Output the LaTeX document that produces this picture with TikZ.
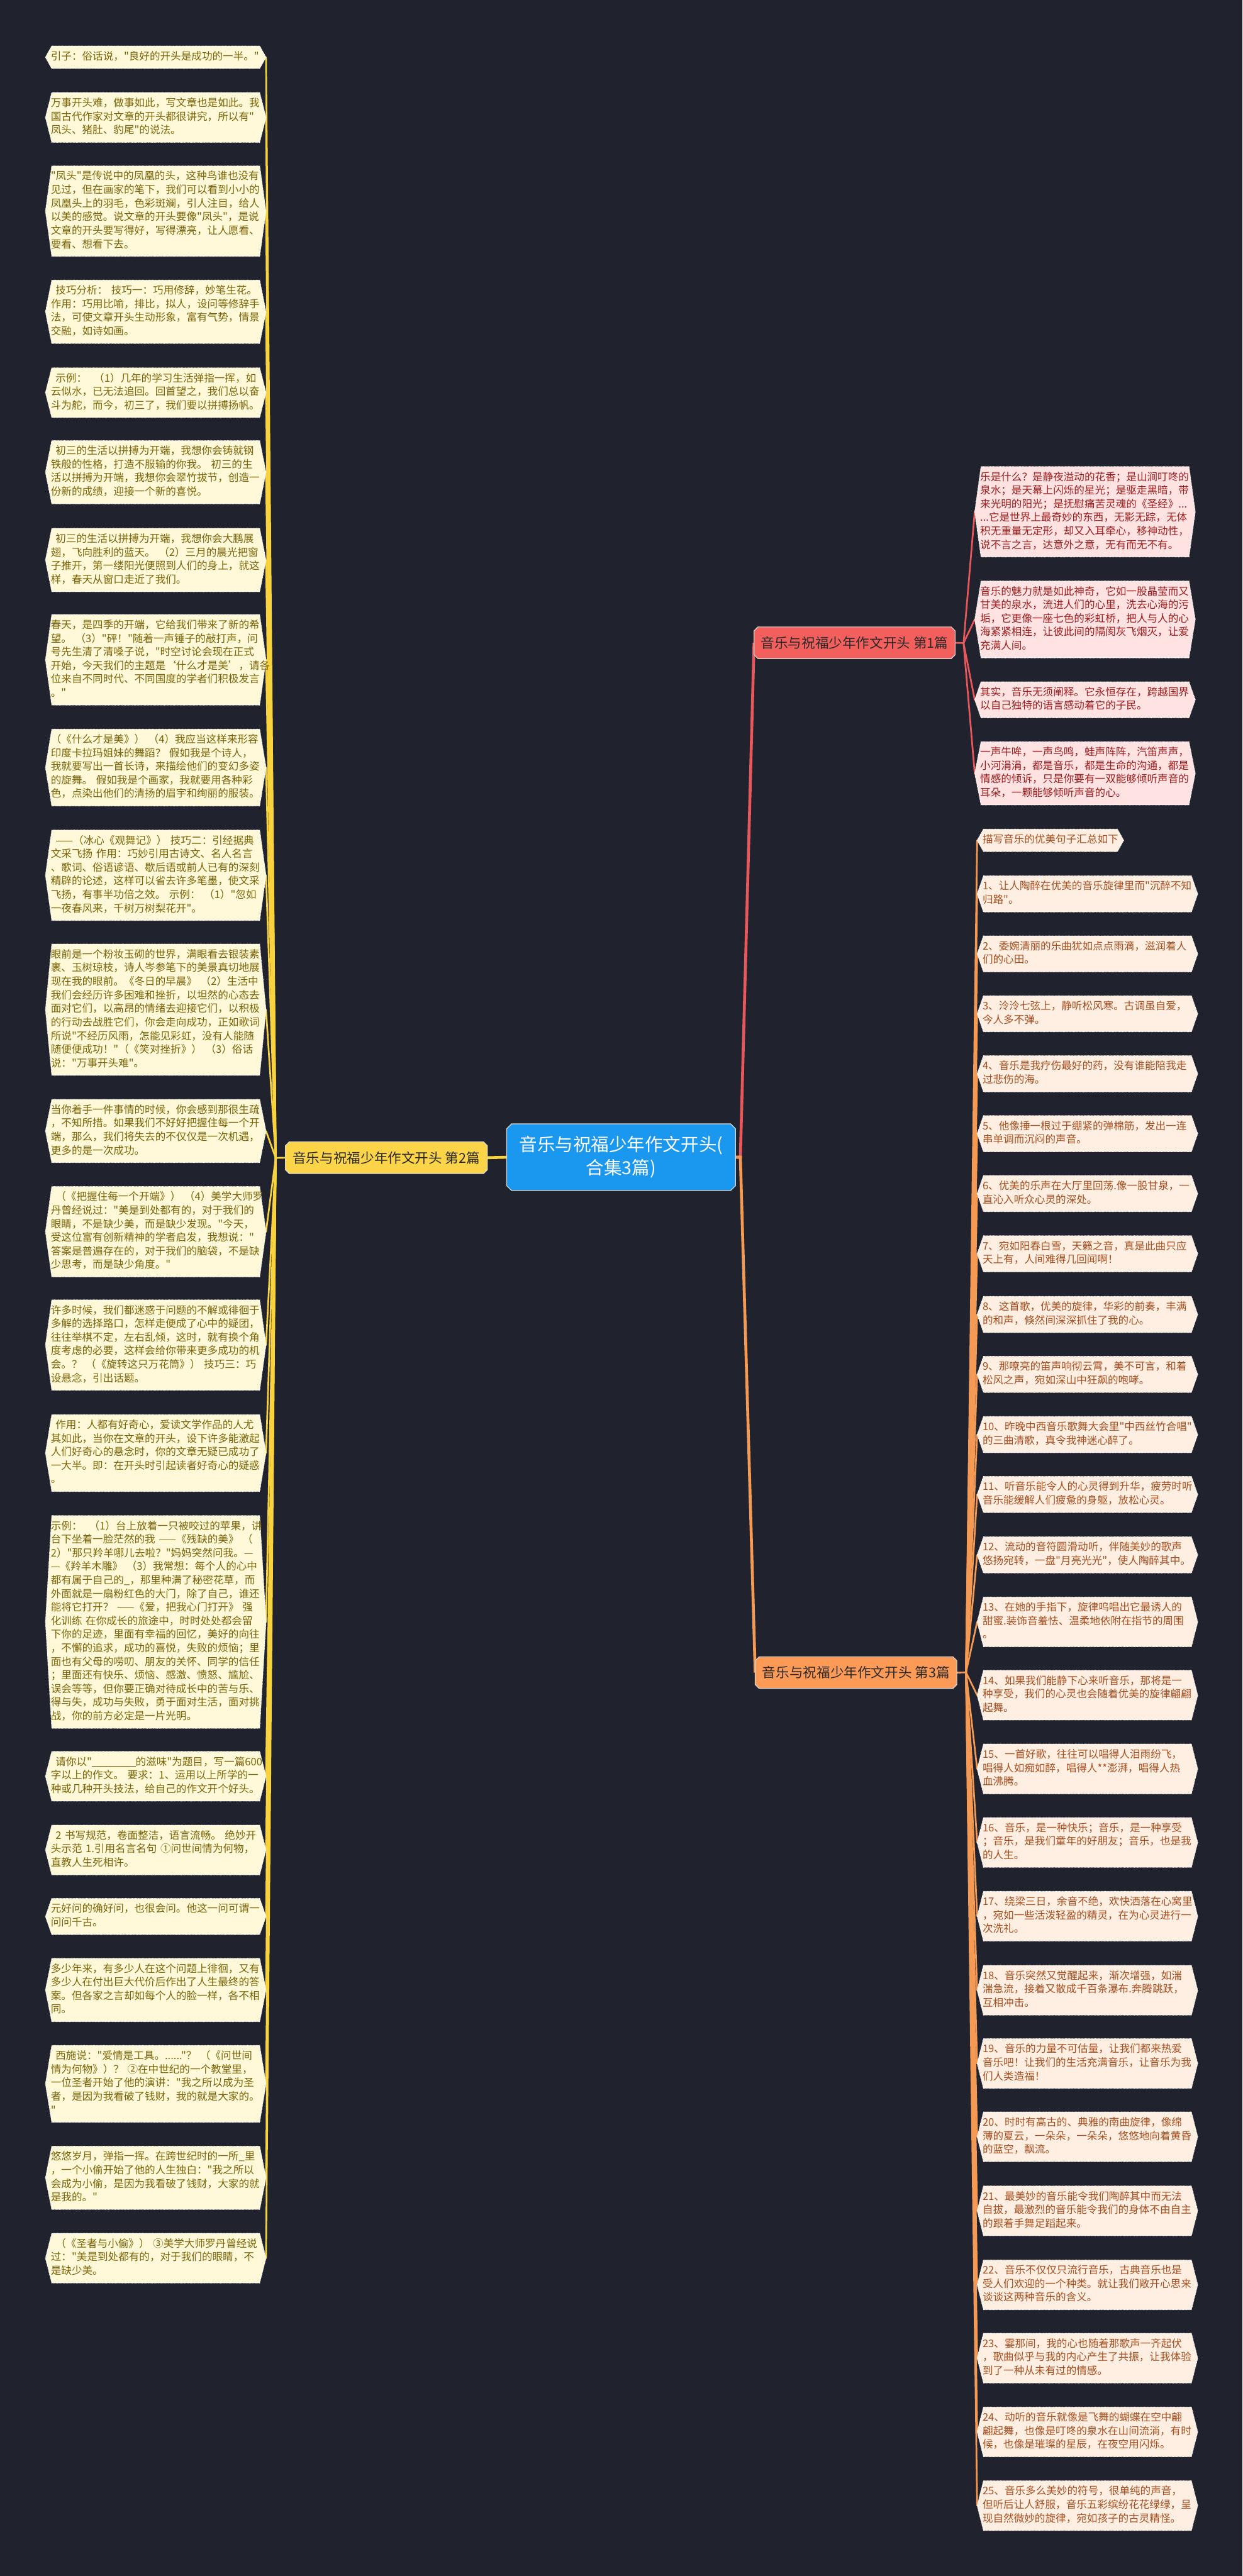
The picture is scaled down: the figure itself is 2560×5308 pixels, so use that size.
\documentclass[tikz,border=0pt]{standalone}
\usepackage{fontspec}
\setmainfont{Noto Sans CJK SC}[Ligatures=TeXOff]
\usetikzlibrary{backgrounds}
\definecolor{bgc}{HTML}{20232E}
\definecolor{yfill}{HTML}{FFF9DA}
\definecolor{ytext}{HTML}{7A6406}
\definecolor{yline}{HTML}{F8D33E}
\definecolor{bYfill}{HTML}{FCD448}
\definecolor{rfill}{HTML}{FFE3E3}
\definecolor{rtext}{HTML}{9C1C1C}
\definecolor{rline}{HTML}{E8585A}
\definecolor{bRfill}{HTML}{F25F5C}
\definecolor{ofill}{HTML}{FFEEE2}
\definecolor{otext}{HTML}{A54E1E}
\definecolor{oline}{HTML}{F59A55}
\definecolor{bOfill}{HTML}{FD9A55}
\definecolor{cfill}{HTML}{1A98EF}
\definecolor{btext}{HTML}{2A2A2A}
\newcommand\lsp{\hspace*{0.45em}}
\newcommand\blankline{\rule[-2pt]{4.2em}{1.2pt}}
\begin{document}
\begin{tikzpicture}[x=1pt,y=-1pt,
  leafbase/.style={rectangle, inner xsep=11pt, inner ysep=9pt, align=left,
    font=\fontsize{21.5pt}{28pt}\selectfont,
    execute at begin node=\strut, execute at end node=\strut},
  leafL/.style={leafbase, text width=432pt, text=ytext, anchor=east},
  leafR/.style={leafbase, text width=432pt, text=rtext, anchor=west},
  leafO/.style={leafbase, text width=432pt, text=otext, anchor=west},
  branchnode/.style={rectangle, minimum height=65pt, inner xsep=14pt,
    font=\fontsize{28pt}{34pt}\selectfont, text=btext},
  rootnode/.style={rectangle, text=white, align=center,
    font=\fontsize{37pt}{48pt}\selectfont, minimum width=471pt, minimum height=137pt},
  link/.style={line width=3.5pt, line cap=round},
  mainlink/.style={line width=6pt},
  hexstyle/.style={fill=#1, draw=white, densely dotted, line width=1.3pt},
  octstyle/.style={fill=#1, draw=white!85!black, line width=1.5pt}
]
\path[use as bounding box] (0,0) rectangle (2560,5308);

% ---------- root and branches ----------
\node[rootnode] (C) at (1279.5,2384.5) {音乐与祝福少年作文开头(\\合集3篇)};
\node[branchnode, minimum width=409pt] (B1) at (1760.5,1324.5) {音乐与祝福少年作文开头 第1篇};
\node[branchnode, minimum width=416pt] (B2) at (796,2385.5) {音乐与祝福少年作文开头 第2篇};
\node[branchnode, minimum width=415pt] (B3) at (1763.5,3446.5) {音乐与祝福少年作文开头 第3篇};

\coordinate (cL) at (568,2386);
\coordinate (cR) at (1985,1325);
\coordinate (cO) at (1990,3446);

% ---------- left leaves (branch 2) ----------
\node[leafL] (L1) at (548,118) {引子：俗话说，"良好的开头是成功的一半。"};
\node[leafL] (L2) at (548,242) {万事开头难，做事如此，写文章也是如此。我\\国古代作家对文章的开头都很讲究，所以有"\\凤头、猪肚、豹尾"的说法。};
\node[leafL] (L3) at (548,435) {"凤头"是传说中的凤凰的头，这种鸟谁也没有\\见过，但在画家的笔下，我们可以看到小小的\\凤凰头上的羽毛，色彩斑斓，引人注目，给人\\以美的感觉。说文章的开头要像"凤头"，是说\\文章的开头要写得好，写得漂亮，让人愿看、\\要看、想看下去。};
\node[leafL] (L4) at (548,642.5) {\lsp 技巧分析：~技巧一：巧用修辞，妙笔生花。\\作用：巧用比喻，排比，拟人，设问等修辞手\\法，可使文章开头生动形象，富有气势，情景\\交融，如诗如画。};
\node[leafL] (L5) at (548,809) {\lsp 示例：~~（1）几年的学习生活弹指一挥，如\\云似水，已无法追回。回首望之，我们总以奋\\斗为舵，而今，初三了，我们要以拼搏扬帆。};
\node[leafL] (L6) at (548,973) {\lsp 初三的生活以拼搏为开端，我想你会铸就钢\\铁般的性格，打造不服输的你我。~初三的生\\活以拼搏为开端，我想你会翠竹拔节，创造一\\份新的成绩，迎接一个新的喜悦。};
\node[leafL] (L7) at (548,1154) {\lsp 初三的生活以拼搏为开端，我想你会大鹏展\\翅，飞向胜利的蓝天。~（2）三月的晨光把窗\\子推开，第一缕阳光便照到人们的身上，就这\\样，春天从窗口走近了我们。};
\node[leafL] (L8) at (548,1359.5) {春天，是四季的开端，它给我们带来了新的希\\望。~（3）"砰！"随着一声锤子的敲打声，问\\号先生清了清嗓子说，"时空讨论会现在正式\\开始，今天我们的主题是‘什么才是美’，请各\\位来自不同时代、不同国度的学者们积极发言\\。"};
\node[leafL] (L9) at (548,1581.5) {（《什么才是美》）~（4）我应当这样来形容\\印度卡拉玛姐妹的舞蹈？~假如我是个诗人，\\我就要写出一首长诗，来描绘他们的变幻多姿\\的旋舞。~假如我是个画家，我就要用各种彩\\色，点染出他们的清扬的眉宇和绚丽的服装。};
\node[leafL] (L10) at (548,1803.5) {\lsp ——（冰心《观舞记》）~技巧二：引经据典\\文采飞扬~作用：巧妙引用古诗文、名人名言\\、歌词、俗语谚语、歇后语或前人已有的深刻\\精辟的论述，这样可以省去许多笔墨，使文采\\飞扬，有事半功倍之效。~示例：~（1）"忽如\\一夜春风来，千树万树梨花开"。};
\node[leafL] (L11) at (548,2080.5) {眼前是一个粉妆玉砌的世界，满眼看去银装素\\裹、玉树琼枝，诗人岑参笔下的美景真切地展\\现在我的眼前。《冬日的早晨》~（2）生活中\\我们会经历许多困难和挫折，以坦然的心态去\\面对它们，以高昂的情绪去迎接它们，以积极\\的行动去战胜它们，你会走向成功，正如歌词\\所说"不经历风雨，怎能见彩虹，没有人能随\\随便便成功！"（《笑对挫折》）~（3）俗话\\说："万事开头难"。};
\node[leafL] (L12) at (548,2330.5) {当你着手一件事情的时候，你会感到那很生疏\\，不知所措。如果我们不好好把握住每一个开\\端，那么，我们将失去的不仅仅是一次机遇，\\更多的是一次成功。};
\node[leafL] (L13) at (548,2538) {\lsp （《把握住每一个开端》）~（4）美学大师罗\\丹曾经说过："美是到处都有的，对于我们的\\眼睛，不是缺少美，而是缺少发现。"今天，\\受这位富有创新精神的学者启发，我想说："\\答案是普遍存在的，对于我们的脑袋，不是缺\\少思考，而是缺少角度。"};
\node[leafL] (L14) at (548,2771.5) {许多时候，我们都迷惑于问题的不解或徘徊于\\多解的选择路口，怎样走便成了心中的疑团，\\往往举棋不定，左右乱倾，这时，就有换个角\\度考虑的必要，这样会给你带来更多成功的机\\会。？~（《旋转这只万花筒》）~技巧三：巧\\设悬念，引出话题。};
\node[leafL] (L15) at (548,2994) {\lsp 作用：人都有好奇心，爱读文学作品的人尤\\其如此，当你在文章的开头，设下许多能激起\\人们好奇心的悬念时，你的文章无疑已成功了\\一大半。即：在开头时引起读者好奇心的疑惑\\。};
\node[leafL] (L16) at (548,3342) {示例：~~（1）台上放着一只被咬过的苹果，讲\\台下坐着一脸茫然的我~——《残缺的美》~（\\2）"那只羚羊哪儿去啦？"妈妈突然问我。—\\—《羚羊木雕》~（3）我常想：每个人的心中\\都有属于自己的\_，那里种满了秘密花草，而\\外面就是一扇粉红色的大门，除了自己，谁还\\能将它打开？~——《爱，把我心门打开》~强\\化训练~在你成长的旅途中，时时处处都会留\\下你的足迹，里面有幸福的回忆，美好的向往\\，不懈的追求，成功的喜悦，失败的烦恼；里\\面也有父母的唠叨、朋友的关怀、同学的信任\\；里面还有快乐、烦恼、感激、愤怒、尴尬、\\误会等等，但你要正确对待成长中的苦与乐、\\得与失，成功与失败，勇于面对生活，面对挑\\战，你的前方必定是一片光明。};
\node[leafL] (L17) at (548,3660) {\lsp 请你以"\blankline 的滋味"为题目，写一篇600\\字以上的作文。~要求：1、运用以上所学的一\\种或几种开头技法，给自己的作文开个好头。};
\node[leafL] (L18) at (548,3812) {\lsp 2~书写规范，卷面整洁，语言流畅。~绝妙开\\头示范~1.引用名言名句~①问世间情为何物，\\直教人生死相许。};
\node[leafL] (L19) at (548,3949) {元好问的确好问，也很会问。他这一问可谓一\\问问千古。};
\node[leafL] (L20) at (548,4100.5) {多少年来，有多少人在这个问题上徘徊，又有\\多少人在付出巨大代价后作出了人生最终的答\\案。但各家之言却如每个人的脸一样，各不相\\同。};
\node[leafL] (L21) at (548,4294) {\lsp 西施说："爱情是工具。......"？~（《问世间\\情为何物》）？~②在中世纪的一个教堂里，\\一位圣者开始了他的演讲："我之所以成为圣\\者，是因为我看破了钱财，我的就是大家的。\\"};
\node[leafL] (L22) at (548,4487.5) {悠悠岁月，弹指一挥。在跨世纪时的一所\_里\\，一个小偷开始了他的人生独白："我之所以\\会成为小偷，是因为我看破了钱财，大家的就\\是我的。"};
\node[leafL] (L23) at (548,4653) {\lsp （《圣者与小偷》）~③美学大师罗丹曾经说\\过："美是到处都有的，对于我们的眼睛，不\\是缺少美。};

% ---------- right leaves (branch 1) ----------
\node[leafR] (R1) at (2008,1054.5) {乐是什么？是静夜溢动的花香；是山涧叮咚的\\泉水；是天幕上闪烁的星光；是驱走黑暗，带\\来光明的阳光；是抚慰痛苦灵魂的《圣经》...\\...它是世界上最奇妙的东西，无影无踪，无体\\积无重量无定形，却又入耳牵心，移神动性，\\说不言之言，达意外之意，无有而无不有。};
\node[leafR] (R2) at (2008,1276.5) {音乐的魅力就是如此神奇，它如一股晶莹而又\\甘美的泉水，流进人们的心里，洗去心海的污\\垢，它更像一座七色的彩虹桥，把人与人的心\\海紧紧相连，让彼此间的隔阂灰飞烟灭，让爱\\充满人间。};
\node[leafR] (R3) at (2008,1442) {其实，音乐无须阐释。它永恒存在，跨越国界\\以自己独特的语言感动着它的子民。};
\node[leafR] (R4) at (2008,1593.5) {一声牛哞，一声鸟鸣，蛙声阵阵，汽笛声声，\\小河涓涓，都是音乐，都是生命的沟通，都是\\情感的倾诉，只是你要有一双能够倾听声音的\\耳朵，一颗能够倾听声音的心。};

% ---------- right leaves (branch 3) ----------
\node[leafbase, text=otext, anchor=west] (O0) at (2013,1731.5) {描写音乐的优美句子汇总如下};
\node[leafO] (O1) at (2013,1842) {1、让人陶醉在优美的音乐旋律里而"沉醉不知\\归路"。};
\node[leafO] (O2) at (2013,1965.5) {2、委婉清丽的乐曲犹如点点雨滴，滋润着人\\们的心田。};
\node[leafO] (O3) at (2013,2089) {3、泠泠七弦上，静听松风寒。古调虽自爱，\\今人多不弹。};
\node[leafO] (O4) at (2013,2212.5) {4、音乐是我疗伤最好的药，没有谁能陪我走\\过悲伤的海。};
\node[leafO] (O5) at (2013,2336) {5、他像捶一根过于绷紧的弹棉筋，发出一连\\串单调而沉闷的声音。};
\node[leafO] (O6) at (2013,2459.5) {6、优美的乐声在大厅里回荡.像一股甘泉，一\\直沁入听众心灵的深处。};
\node[leafO] (O7) at (2013,2583.5) {7、宛如阳春白雪，天籁之音，真是此曲只应\\天上有，人间难得几回闻啊！};
\node[leafO] (O8) at (2013,2708.5) {8、这首歌，优美的旋律，华彩的前奏，丰满\\的和声，倏然间深深抓住了我的心。};
\node[leafO] (O9) at (2013,2832) {9、那嘹亮的笛声响彻云霄，美不可言，和着\\松风之声，宛如深山中狂飙的咆哮。};
\node[leafO] (O10) at (2013,2956) {10、昨晚中西音乐歌舞大会里"中西丝竹合唱"\\的三曲清歌，真令我神迷心醉了。};
\node[leafO] (O11) at (2013,3079.5) {11、听音乐能令人的心灵得到升华，疲劳时听\\音乐能缓解人们疲惫的身躯，放松心灵。};
\node[leafO] (O12) at (2013,3204) {12、流动的音符圆滑动听，伴随美妙的歌声\\悠扬宛转，一盘"月亮光光"，使人陶醉其中。};
\node[leafO] (O13) at (2013,3342) {13、在她的手指下，旋律呜唱出它最诱人的\\甜蜜.装饰音羞怯、温柔地依附在指节的周围\\。};
\node[leafO] (O14) at (2013,3493) {14、如果我们能静下心来听音乐，那将是一\\种享受，我们的心灵也会随着优美的旋律翩翩\\起舞。};
\node[leafO] (O15) at (2013,3645) {15、一首好歌，往往可以唱得人泪雨纷飞，\\唱得人如痴如醉，唱得人**澎湃，唱得人热\\血沸腾。};
\node[leafO] (O16) at (2013,3796.5) {16、音乐，是一种快乐；音乐，是一种享受\\；音乐，是我们童年的好朋友；音乐，也是我\\的人生。};
\node[leafO] (O17) at (2013,3948.5) {17、绕梁三日，余音不绝，欢快洒落在心窝里\\，宛如一些活泼轻盈的精灵，在为心灵进行一\\次洗礼。};
\node[leafO] (O18) at (2013,4101) {18、音乐突然又觉醒起来，渐次增强，如湍\\湍急流，接着又散成千百条瀑布.奔腾跳跃，\\互相冲击。};
\node[leafO] (O19) at (2013,4252) {19、音乐的力量不可估量，让我们都来热爱\\音乐吧！让我们的生活充满音乐，让音乐为我\\们人类造福！};
\node[leafO] (O20) at (2013,4403) {20、时时有高古的、典雅的南曲旋律，像绵\\薄的夏云，一朵朵，一朵朵，悠悠地向着黄昏\\的蓝空，飘流。};
\node[leafO] (O21) at (2013,4555.5) {21、最美妙的音乐能令我们陶醉其中而无法\\自拔，最激烈的音乐能令我们的身体不由自主\\的跟着手舞足蹈起来。};
\node[leafO] (O22) at (2013,4708) {22、音乐不仅仅只流行音乐，古典音乐也是\\受人们欢迎的一个种类。就让我们敞开心思来\\谈谈这两种音乐的含义。};
\node[leafO] (O23) at (2013,4859) {23、霎那间，我的心也随着那歌声一齐起伏\\，歌曲似乎与我的内心产生了共振，让我体验\\到了一种从未有过的情感。};
\node[leafO] (O24) at (2013,5011) {24、动听的音乐就像是飞舞的蝴蝶在空中翩\\翩起舞，也像是叮咚的泉水在山间流淌，有时\\候，也像是璀璨的星辰，在夜空用闪烁。};
\node[leafO] (O25) at (2013,5163) {25、音乐多么美妙的符号，很单纯的声音，\\但听后让人舒服，音乐五彩缤纷花花绿绿，呈\\现自然微妙的旋律，宛如孩子的古灵精怪。};

% ---------- background layer: canvas, connectors, shapes ----------
\begin{scope}[on background layer]
\fill[bgc] (0,0) rectangle (2560,5308);
% main connectors
\draw[mainlink, yline] (C.west) -- (B2.east);
\draw[mainlink, rline] (C.east) -- ++(10,0) -- (B1.west);
\draw[mainlink, oline] (C.east) -- ++(10,0) -- (B3.west);
% branch stubs
\draw[link, yline] (B2.west) -- (cL);
\draw[link, rline] (B1.east) -- (cR);
\draw[link, oline] (B3.east) -- (cO);
\foreach \i in {1,...,23} {\draw[link, yline] (cL) -- (L\i.east);}
\foreach \i in {1,...,4} {\draw[link, rline] (cR) -- (R\i.west);}
\foreach \i in {0,...,25} {\draw[link, oline] (cO) -- (O\i.west);}
% leaf hexagons
\foreach \n/\c in {L1/yfill,L2/yfill,L3/yfill,L4/yfill,L5/yfill,L6/yfill,L7/yfill,L8/yfill,L9/yfill,L10/yfill,L11/yfill,L12/yfill,L13/yfill,L14/yfill,L15/yfill,L16/yfill,L17/yfill,L18/yfill,L19/yfill,L20/yfill,L21/yfill,L22/yfill,L23/yfill,R1/rfill,R2/rfill,R3/rfill,R4/rfill,O0/ofill,O1/ofill,O2/ofill,O3/ofill,O4/ofill,O5/ofill,O6/ofill,O7/ofill,O8/ofill,O9/ofill,O10/ofill,O11/ofill,O12/ofill,O13/ofill,O14/ofill,O15/ofill,O16/ofill,O17/ofill,O18/ofill,O19/ofill,O20/ofill,O21/ofill,O22/ofill,O23/ofill,O24/ofill,O25/ofill} {
  \path[hexstyle=\c] (\n.west) -- ([xshift=13pt]\n.north west) -- ([xshift=-13pt]\n.north east) -- (\n.east) -- ([xshift=-13pt]\n.south east) -- ([xshift=13pt]\n.south west) -- cycle;
}
% octagons for root and branches
\foreach \n/\c/\k in {C/cfill/10pt,B1/bRfill/8pt,B2/bYfill/8pt,B3/bOfill/8pt} {
  \path[octstyle=\c] ([xshift=\k]\n.north west) -- ([xshift=-\k]\n.north east) -- ([yshift=-\k]\n.north east) -- ([yshift=\k]\n.south east) -- ([xshift=-\k]\n.south east) -- ([xshift=\k]\n.south west) -- ([yshift=\k]\n.south west) -- ([yshift=-\k]\n.north west) -- cycle;
}
\end{scope}
\end{tikzpicture}
\end{document}
